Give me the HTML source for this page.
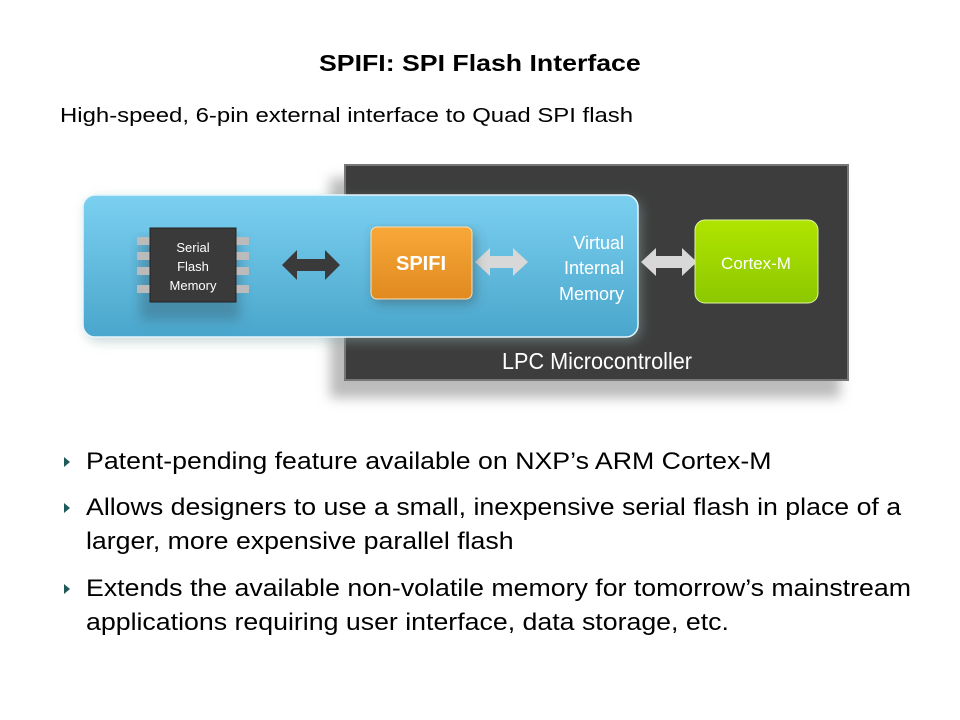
<!DOCTYPE html>
<html><head><meta charset="utf-8"><style>
html,body{margin:0;padding:0;background:#fff;}
body{width:960px;height:720px;position:relative;overflow:hidden;font-family:"Liberation Sans",Arial,sans-serif;}
.t{position:absolute;white-space:nowrap;color:#000;transform-origin:0 0;}
.bt{font-size:24px;transform:scaleX(1.113);}
.b{position:absolute;left:64px;width:0;height:0;border-top:5px solid transparent;border-bottom:5px solid transparent;border-left:6px solid #1f5a5a;}
</style></head><body>
<div class="t" style="left:319px;top:50px;font-size:23px;font-weight:bold;transform:scaleX(1.16);">SPIFI: SPI Flash Interface</div>
<div class="t" style="left:60px;top:105px;font-size:20px;transform:scaleX(1.196);">High-speed, 6-pin external interface to Quad SPI flash</div>

<svg style="position:absolute;left:0;top:0" width="960" height="720">
<defs>
<linearGradient id="bl" x1="0" y1="0" x2="0" y2="1"><stop offset="0" stop-color="#7bd0f0"/><stop offset="1" stop-color="#4aa6cc"/></linearGradient>
<linearGradient id="or" x1="0" y1="0" x2="0" y2="1"><stop offset="0" stop-color="#f8a838"/><stop offset="1" stop-color="#e08a20"/></linearGradient>
<linearGradient id="gr" x1="0" y1="0" x2="0" y2="1"><stop offset="0" stop-color="#b0e400"/><stop offset="1" stop-color="#8cc800"/></linearGradient>
<filter id="sh" x="-10%" y="-10%" width="130%" height="140%"><feGaussianBlur stdDeviation="6"/></filter>
</defs>
<rect x="330" y="178" width="510" height="220" fill="#bbb" filter="url(#sh)"/>
<rect x="345" y="165" width="503" height="215" fill="#3d3d3d" stroke="#777" stroke-width="2"/>
<rect x="86" y="199" width="555" height="142" rx="12" fill="#8aa" opacity="0.5" filter="url(#sh)"/>
<rect x="83" y="195" width="555" height="142" rx="12" fill="url(#bl)" stroke="#e8f6fc" stroke-width="1.5"/>
<rect x="140" y="240" width="100" height="80" fill="#3a6a80" opacity="0.5" filter="url(#sh)"/>
<g fill="#bbb">
<rect x="137" y="237" width="13" height="8"/><rect x="137" y="252" width="13" height="8"/><rect x="137" y="267" width="13" height="8"/><rect x="137" y="285" width="13" height="8"/>
<rect x="236" y="237" width="13" height="8"/><rect x="236" y="252" width="13" height="8"/><rect x="236" y="267" width="13" height="8"/><rect x="236" y="285" width="13" height="8"/>
</g>
<rect x="150" y="228" width="86" height="74" fill="#3a3a3a" stroke="#222"/>
<text x="193" y="252" font-size="13" fill="#fff" text-anchor="middle" font-family="Liberation Sans">Serial</text>
<text x="193" y="271" font-size="13" fill="#fff" text-anchor="middle" font-family="Liberation Sans">Flash</text>
<text x="193" y="290" font-size="13" fill="#fff" text-anchor="middle" font-family="Liberation Sans">Memory</text>
<polygon points="282,265 297,250 297,259 325,259 325,250 340,265 325,280 325,271 297,271 297,280" fill="#3a3a3a"/>
<polygon points="475,262 490,248 490,256 513,256 513,248 528,262 513,276 513,268 490,268 490,276" fill="#d8d8d8"/>
<polygon points="641,262 656,248 656,256 682,256 682,248 697,262 682,276 682,268 656,268 656,276" fill="#d8d8d8"/>
<rect x="374" y="231" width="101" height="72" rx="6" fill="#333" opacity="0.4" filter="url(#sh)"/>
<rect x="371" y="227" width="101" height="72" rx="6" fill="url(#or)" stroke="#fde0b0"/>
<text x="421" y="270" font-size="20" font-weight="bold" fill="#fff" text-anchor="middle" font-family="Liberation Sans">SPIFI</text>
<text x="624" y="249" font-size="18" fill="#fff" text-anchor="end" font-family="Liberation Sans">Virtual</text>
<text x="624" y="274" font-size="18" fill="#fff" text-anchor="end" font-family="Liberation Sans">Internal</text>
<text x="624" y="300" font-size="18" fill="#fff" text-anchor="end" font-family="Liberation Sans">Memory</text>
<rect x="695" y="220" width="123" height="83" rx="10" fill="url(#gr)" stroke="#e0f6a0"/>
<text x="756" y="269" font-size="17" fill="#fff" text-anchor="middle" font-family="Liberation Sans">Cortex-M</text>
<text x="597" y="369" font-size="23" fill="#fff" text-anchor="middle" font-family="Liberation Sans" textLength="190" lengthAdjust="spacingAndGlyphs">LPC Microcontroller</text>
</svg>

<div class="b" style="top:457px"></div>
<div class="t bt" style="left:86px;top:448px;">Patent-pending feature available on NXP’s ARM Cortex-M</div>
<div class="b" style="top:503px"></div>
<div class="t bt" style="left:86px;top:494px;">Allows designers to use a small, inexpensive serial flash in place of a</div>
<div class="t bt" style="left:86px;top:528px;">larger, more expensive parallel flash</div>
<div class="b" style="top:584px"></div>
<div class="t bt" style="left:86px;top:575px;">Extends the available non-volatile memory for tomorrow’s mainstream</div>
<div class="t bt" style="left:86px;top:609px;">applications requiring user interface, data storage, etc.</div>
</body></html>
